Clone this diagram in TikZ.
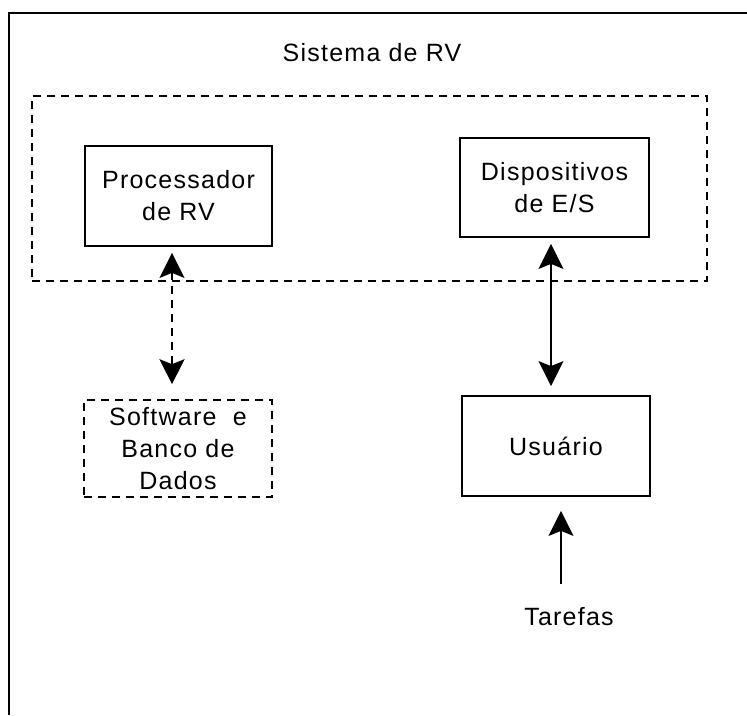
\documentclass[tikz,border=0pt]{standalone}
\usepackage{fontspec}
\setmainfont[LetterSpace=5]{Liberation Sans}
\usetikzlibrary{arrows.meta,calc}
\begin{document}
\begin{tikzpicture}[x=1pt,y=-1pt,
  bighead/.tip={Stealth[length=25pt, width=25pt, inset=5pt]},
  lbl/.style={font=\fontsize{25}{32}\selectfont, align=center, inner sep=0pt},
  solidbox/.style={lbl, draw, line width=1.8pt, minimum width=188pt, minimum height=99pt},
  dashbox/.style={lbl, draw, line width=1.6pt, dash pattern=on 8pt off 6pt, minimum width=188pt, minimum height=97pt},
  link/.style={line width=1.6pt, {bighead}-{bighead}},
  dashlink/.style={link, dash pattern=on 8pt off 6pt},
  inlink/.style={line width=1.6pt, -{bighead}}]
  % page and frame
  \fill[white] (0,0) rectangle (747,715);
  \useasboundingbox (0,0) rectangle (747,715);
  \draw[line width=2pt] (9,715) -- (9,13) -- (747,13);

  % system boundary and its title
  \node[draw, line width=1.6pt, dash pattern=on 8pt off 6pt, minimum width=675pt, minimum height=185pt]
    (sys) at (369.5,188.5) {};
  \node[lbl] (title) at (372,53) {Sistema de RV};

  % components
  \node[solidbox, minimum width=187pt, minimum height=100pt] (proc) at (178.5,196) {Processador\\de RV};
  \node[solidbox, minimum width=189pt] (disp) at (554.5,187.5) {Dispositivos\\de E/S};
  \node[dashbox] (soft) at (178,448.5) {Software~~e\\Banco de\\Dados};
  \node[solidbox, minimum height=100pt] (user) at (556,446) {Usuário};
  \node[lbl] (task) at (569,617) {Tarefas};

  % connectors
  \draw[dashlink] ($(proc.south)+(-6.5,6)$) -- ($(soft.north)+(-6,-15)$);
  \draw[link] ($(disp.south)+(-3.5,6)$) -- ($(user.north)+(-5,-9)$);
  \draw[inlink] ($(task.north)+(-8,-24)$) -- ($(user.south)+(5,14)$);
\end{tikzpicture}
\end{document}
